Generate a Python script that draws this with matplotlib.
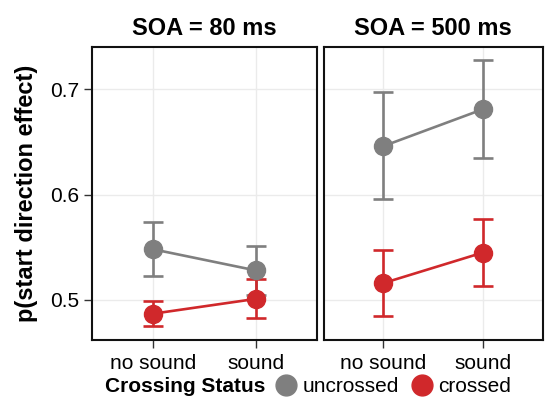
import matplotlib.pyplot as plt
from matplotlib.lines import Line2D

plt.rcParams['font.family'] = ['Liberation Sans', 'DejaVu Sans']

conditions = ['no sound', 'sound']
panels = ['SOA = 80 ms', 'SOA = 500 ms']
groups = ['uncrossed', 'crossed']
colors = {'uncrossed': '#7f7f7f', 'crossed': '#d0282b'}

# means and error bar limits, per panel then group
means = {
    'SOA = 80 ms': {'uncrossed': [0.548, 0.528], 'crossed': [0.487, 0.501]},
    'SOA = 500 ms': {'uncrossed': [0.646, 0.681], 'crossed': [0.516, 0.545]},
}
lower = {
    'SOA = 80 ms': {'uncrossed': [0.523, 0.505], 'crossed': [0.475, 0.483]},
    'SOA = 500 ms': {'uncrossed': [0.596, 0.635], 'crossed': [0.485, 0.513]},
}
upper = {
    'SOA = 80 ms': {'uncrossed': [0.574, 0.551], 'crossed': [0.499, 0.520]},
    'SOA = 500 ms': {'uncrossed': [0.697, 0.728], 'crossed': [0.547, 0.577]},
}

fig = plt.figure(figsize=(5.45, 3.97), dpi=100)
ax1 = fig.add_axes([0.169, 0.1436, 0.413, 0.738])
ax2 = fig.add_axes([0.594, 0.1436, 0.402, 0.738], sharey=ax1)

for ax, panel in zip([ax1, ax2], panels):
    x = list(range(len(conditions)))
    for g in groups:
        m = means[panel][g]
        lo = [a - b for a, b in zip(m, lower[panel][g])]
        hi = [b - a for a, b in zip(m, upper[panel][g])]
        ax.errorbar(x, m, yerr=[lo, hi], color=colors[g], lw=1.9, elinewidth=1.9,
                    capsize=7.5, capthick=1.9, marker='o', ms=13, zorder=3)
    ax.set_xticks(x)
    ax.set_xticklabels(conditions)
    ax.set_xlim(-0.6, 1.6)
    ax.set_ylim(0.462, 0.740)
    ax.set_yticks([0.5, 0.6, 0.7])
    ax.grid(True, color='#ebebeb', lw=1)
    ax.set_axisbelow(True)
    for s in ax.spines.values():
        s.set_linewidth(1.5)
        s.set_color('#111111')
    ax.tick_params(axis='both', length=6, width=1, color='#333333', labelsize=15, pad=3)
    ax.tick_params(axis='x', pad=4)
    ax.set_title(panel, fontsize=17, fontweight='bold', pad=9)

ax1.set_ylabel('p(start direction effect)', fontsize=17, fontweight='bold', labelpad=9)
ax2.tick_params(axis='y', left=False, labelleft=False)

fig.text(0.193, 0.026, 'Crossing Status', fontsize=15, fontweight='bold', va='center')
handles = [Line2D([], [], color=colors[g], marker='o', ms=15, lw=0) for g in groups]
fig.legend(handles, groups, ncol=2, loc='center left', bbox_to_anchor=(0.505, 0.026),
           frameon=False, fontsize=15, handlelength=1.0, handletextpad=0.3,
           columnspacing=0.6, borderpad=0, borderaxespad=0)

fig.savefig('out.png', dpi=100)
